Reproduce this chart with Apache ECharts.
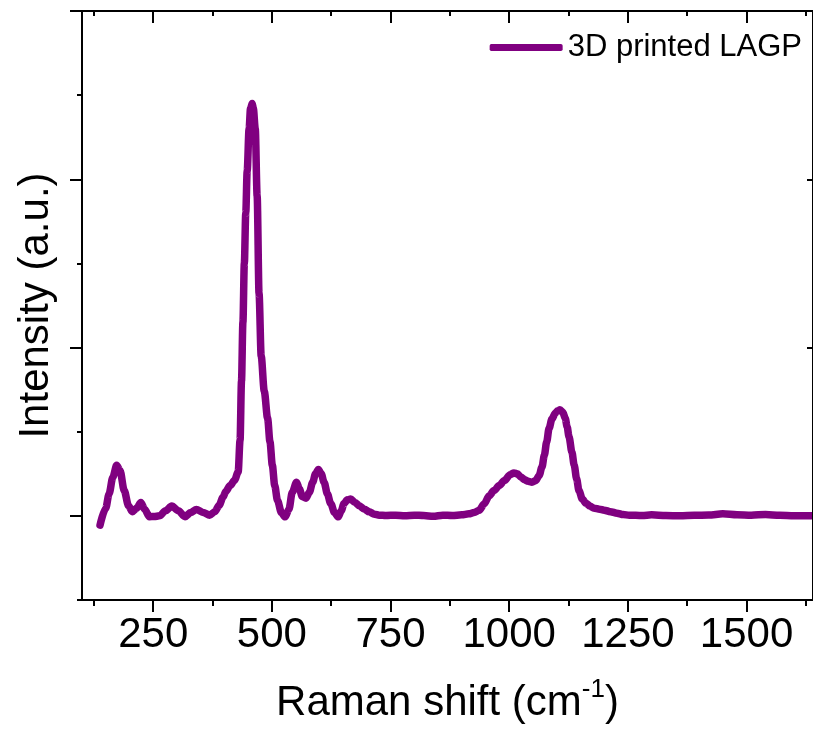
<!DOCTYPE html>
<html>
<head>
<meta charset="utf-8">
<script src="https://cdn.jsdelivr.net/npm/echarts@6/dist/echarts.min.js"></script>
<style>
  html, body { margin: 0; padding: 0; background: #fff; }
  #wrap { position: relative; width: 813px; height: 729px; overflow: hidden; }
  #main { width: 813px; height: 729px; }
  #frame { position: absolute; border: 2px solid #000; pointer-events: none; box-sizing: content-box; }
</style>
</head>
<body>
<div id="wrap">
  <div id="main"></div>
  <div id="frame"></div>
</div>
<script>
// Raman spectrum
const ramanShift = [138,150,157,165,173,180,189,198,206,215,224,232,242,252,263,276,289,303,317,329,341,355,369,380,389,397,403,412,421,429,433,436,439,442,445,448,452,455,458.6,461,465,469,473,477.5,484,491,496,501,506,512,520,528,536,543,552,558,564,572,579,586,592,598,604,610,617,624,632,640,646,652,659,666,675,684,695,705,716,726,740,761,780,800,820,840,860,880,900,915,926,937,947,958,968,979,990,1002,1010,1017,1025,1032,1040,1048,1056,1063,1069,1074,1079,1084,1090,1097,1102,1107,1113,1118,1122,1126,1132,1137,1142,1147,1154,1162,1170,1179,1190,1200,1213,1227,1240,1253,1280,1300,1330,1360,1390,1420,1450,1480,1510,1540,1570,1600,1640];
const intensity = [-0.055,0.045,0.13,0.23,0.30,0.27,0.15,0.06,0.025,0.045,0.08,0.04,-0.005,-0.004,0.0,0.03,0.058,0.03,-0.005,0.02,0.038,0.02,0.004,0.025,0.063,0.11,0.145,0.18,0.21,0.26,0.45,0.8,1.15,1.5,1.8,2.05,2.3,2.42,2.45,2.42,2.3,1.9,1.32,0.95,0.74,0.58,0.44,0.30,0.18,0.09,0.02,-0.006,0.04,0.14,0.20,0.16,0.115,0.105,0.14,0.20,0.25,0.275,0.25,0.20,0.13,0.073,0.02,-0.006,0.03,0.073,0.095,0.10,0.08,0.06,0.04,0.024,0.01,0.004,0.002,0.004,0.0,0.004,0.002,-0.003,0.004,0.002,0.006,0.012,0.02,0.034,0.07,0.12,0.15,0.18,0.21,0.245,0.255,0.25,0.23,0.215,0.205,0.20,0.21,0.24,0.29,0.36,0.44,0.52,0.575,0.61,0.625,0.63,0.615,0.58,0.53,0.47,0.38,0.30,0.22,0.15,0.10,0.075,0.058,0.045,0.04,0.034,0.025,0.016,0.008,0.004,0.002,0.006,0.002,0.0,0.003,0.005,0.012,0.006,0.004,0.008,0.003,0.001,0.0];

const xMajor = [250, 500, 750, 1000, 1250, 1500];
const xMinor = [125, 375, 625, 875, 1125, 1375, 1625];
const yMajor = [0, 1, 2, 3];
const yMinor = [-0.5, 0.5, 1.5, 2.5];
const xRange = [100, 1640];
const yRange = [-0.5, 3];

const seriesName = "3D printed LAGP";
const font = "'Liberation Sans', Arial, sans-serif";
const purple = "#800080";

const gridLeft = 82, gridTop = 11, gridW = 732, gridH = 594;
const noLine = { show: false, onZero: false };
const tickStyle = { color: "#000", width: 2 };

let myChart = echarts.init(document.getElementById("main"));
myChart.setOption({
  animation: false,
  grid: {
    left: gridLeft, top: gridTop, width: gridW, height: gridH, containLabel: false,
    show: true, borderColor: "#000", borderWidth: 2, backgroundColor: "transparent",
  },
  legend: {
    right: 6,
    top: 27,
    icon: "roundRect",
    itemWidth: 73,
    itemHeight: 7,
    itemGap: 5,
    textStyle: { color: "#000", fontSize: 31, fontFamily: font },
    data: [seriesName],
  },
  xAxis: [
    {
      // bottom, major ticks + labels
      type: "value", position: "bottom", min: xRange[0], max: xRange[1],
      splitLine: { show: false },
      axisLine: noLine,
      axisTick: { show: true, inside: false, length: 12, customValues: xMajor, lineStyle: tickStyle },
      axisLabel: { customValues: xMajor, fontSize: 42, color: "#000", fontFamily: font, margin: 14, formatter: (v) => String(v) },
      name: "{a|Raman shift (cm}{s|-1}{a|)}",
      nameLocation: "middle",
      nameGap: 77,
      nameTextStyle: {
        rich: {
          a: { fontSize: 42, color: "#000", fontFamily: font, lineHeight: 48 },
          s: { fontSize: 26, color: "#000", fontFamily: font, padding: [0, 0, 26, 0] },
        },
      },
    },
    {
      // bottom, minor ticks
      type: "value", position: "bottom", min: xRange[0], max: xRange[1],
      splitLine: { show: false }, axisLine: noLine,
      axisTick: { show: true, inside: false, length: 6, customValues: xMinor, lineStyle: tickStyle },
      axisLabel: { show: false },
    },
    {
      // top frame, major ticks
      type: "value", position: "top", min: xRange[0], max: xRange[1],
      splitLine: { show: false }, axisLine: noLine,
      axisTick: { show: true, inside: true, length: 12, customValues: xMajor, lineStyle: tickStyle },
      axisLabel: { show: false },
    },
    {
      // top frame, minor ticks
      type: "value", position: "top", min: xRange[0], max: xRange[1],
      splitLine: { show: false }, axisLine: noLine,
      axisTick: { show: true, inside: true, length: 5, customValues: xMinor, lineStyle: tickStyle },
      axisLabel: { show: false },
    },
  ],
  yAxis: [
    {
      type: "value", position: "left", min: yRange[0], max: yRange[1],
      splitLine: { show: false }, axisLine: noLine,
      axisTick: { show: true, inside: false, length: 12, customValues: yMajor, lineStyle: tickStyle },
      axisLabel: { show: false },
      name: "Intensity (a.u.)",
      nameLocation: "middle",
      nameGap: 25,
      nameTextStyle: { fontSize: 42, color: "#000", fontFamily: font },
    },
    {
      type: "value", position: "left", min: yRange[0], max: yRange[1],
      splitLine: { show: false }, axisLine: noLine,
      axisTick: { show: true, inside: false, length: 5, customValues: yMinor, lineStyle: tickStyle },
      axisLabel: { show: false },
    },
    {
      type: "value", position: "right", min: yRange[0], max: yRange[1],
      splitLine: { show: false }, axisLine: noLine,
      axisTick: { show: true, inside: true, length: 6, customValues: [0, 1, 2], lineStyle: tickStyle },
      axisLabel: { show: false },
    },
  ],
  series: [
    {
      name: seriesName,
      type: "line",
      xAxisIndex: 0,
      yAxisIndex: 0,
      data: ramanShift.map((x, i) => [x, intensity[i]]),
      showSymbol: false,
      smooth: 0.3,
      smoothMonotone: "x",
      lineStyle: { color: purple, width: 7.5, cap: "round", join: "round" },
      itemStyle: { color: purple },
    },
  ],
});

// plot frame overlay, placed from the axis scales
let tl = myChart.convertToPixel({ xAxisIndex: 0, yAxisIndex: 0 }, [xRange[0], yRange[1]]);
let br = myChart.convertToPixel({ xAxisIndex: 0, yAxisIndex: 0 }, [xRange[1], yRange[0]]);
if (!tl || !br || !isFinite(tl[0]) || !isFinite(br[1])) {
  tl = [gridLeft, gridTop];
  br = [gridLeft + gridW, gridTop + gridH];
}
const frame = document.getElementById("frame");
frame.style.left = (tl[0] - 1) + "px";
frame.style.top = (tl[1] - 1) + "px";
frame.style.width = (br[0] - tl[0] - 2) + "px";
frame.style.height = (br[1] - tl[1] - 2) + "px";
</script>
</body>
</html>
